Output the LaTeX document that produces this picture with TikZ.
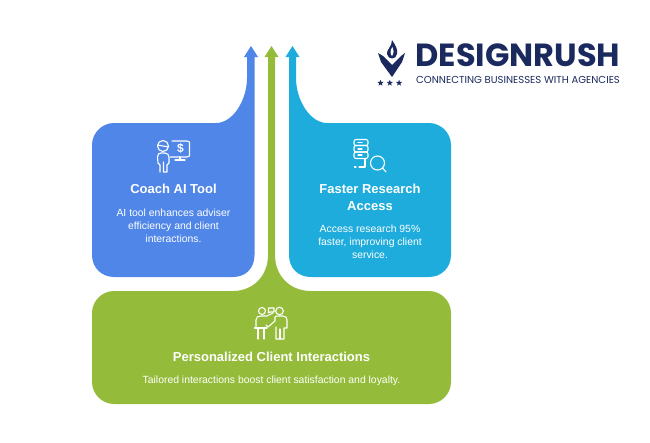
\documentclass[tikz,border=0pt]{standalone}
\usepackage{fontspec}
\setmainfont{Liberation Sans}
\newfontfamily\logofont{Poppins}
\usetikzlibrary{positioning,
        shapes.geometric}
\definecolor{coachblue}{RGB}{79,134,232}
\definecolor{fastcyan}{RGB}{30,172,220}
\definecolor{clientgreen}{RGB}{148,188,58}
\definecolor{rushnavy}{RGB}{27,42,94}
\tikzset{
    titletext/.style={text=white,align=center,font=\fontsize{13}{17}\selectfont\bfseries},
    bodytext/.style={text=white,align=center,font=\fontsize{10.4}{12.8}\selectfont},
    iconline/.style={draw=white,line width=1.1,line cap=round,line join=round},
    navystar/.style={star,star points=5,star point ratio=2.4,fill=rushnavy,inner sep=0,minimum size=6.5}
}

\begin{document}
\begin{tikzpicture}[x=1pt,y=-1pt]
            \useasboundingbox (0,0) rectangle (650,442);
            % panels with their arrows
            \fill [coachblue] (251,46) -- (258,57) -- (254.5,57) -- (254.5,255)
                .. controls (254.5,268) and (246,277) .. (233,277) -- (114,277)
                .. controls (102,277) and (92,268) .. (92,255) -- (92,145)
                .. controls (92,133) and (102,123) .. (114,123) -- (216,123)
                .. controls (233,123) and (247,100) .. (247,78) -- (247,57) -- (244,57) -- cycle;
            \fill [fastcyan] (292.5,46) -- (299.5,57) -- (296,57) -- (296,78)
                .. controls (296,100) and (310,123) .. (327,123) -- (429,123)
                .. controls (441,123) and (451,133) .. (451,145) -- (451,255)
                .. controls (451,268) and (441,277) .. (429,277) -- (311,277)
                .. controls (298,277) and (289,268) .. (289,255) -- (289,57) -- (285.5,57) -- cycle;
            \fill [clientgreen] (271.5,46) -- (278.5,57) -- (275,57) -- (275,255)
                .. controls (275,276) and (290,291) .. (311,291) -- (429,291)
                .. controls (441,291) and (451,301) .. (451,313) -- (451,382)
                .. controls (451,394) and (441,404) .. (429,404) -- (114,404)
                .. controls (102,404) and (92,394) .. (92,382) -- (92,313)
                .. controls (92,301) and (102,291) .. (114,291) -- (233,291)
                .. controls (253,291) and (268,276) .. (268,255) -- (268,57) -- (264.5,57) -- cycle;

            % panel texts
            \node [titletext] (coachtitle) at (173.5,188.5) {Coach AI Tool};
            \node [bodytext] (coachbody) at (173.5,225.5) {AI tool enhances adviser\\efficiency and client\\interactions.};
            \node [titletext] (fastertitle) at (370,197) {Faster Research\\Access};
            \node [bodytext] (fasterbody) at (370,242) {Access research 95\%\\faster, improving client\\service.};
            \node [titletext] (clienttitle) at (271.5,356.5) {Personalized Client Interactions};
            \node [bodytext] (clientbody) at (271.5,380.5) {Tailored interactions boost client satisfaction and loyalty.};

            % coach icon
            \draw [iconline] (163,146) circle (5.5);
            \draw [iconline] (157.5,145) -- (168.5,147);
            \draw [iconline] (160,172) -- (160,165) -- (158,163) -- (157.5,157) .. controls (157.5,154) and (159,153) .. (161,153)
                -- (165,153) .. controls (168,153) and (169,155) .. (169,158) -- (169,163) -- (167,165) -- (167,172) -- (163.5,172) -- (163.5,162);
            \draw [iconline] (172,141) -- (187,141) -- (189.5,142) -- (189.5,156) -- (187,157) -- (170,157);
            \draw [iconline] (180,157) -- (180,160) (175,160) -- (185,160);
            \node [text=white,inner sep=0,font=\fontsize{12}{12}\selectfont\bfseries] (coachdollar) at (180.5,148.5) {\$};

            % research icon
            \draw [iconline,rounded corners=2] (354,139.5) rectangle (368,145.5);
            \draw [iconline,rounded corners=2] (354,145.5) rectangle (368,152);
            \draw [iconline,rounded corners=2] (354,152) rectangle (368,158.5);
            \draw [iconline] (358,142.5) -- (362,142.5) (358,149) -- (362,149) (358,155) -- (362,155);
            \draw [iconline] (365,158.5) -- (365,167) -- (359,167) (356,167) -- (354.5,167);
            \draw [iconline] (377.5,163) circle (7);
            \draw [iconline] (382.5,168) -- (386,172);

            % interaction icon
            \draw [iconline] (262,311) circle (3.5);
            \draw [iconline] (279.5,311) circle (3.8);
            \draw [iconline] (268.5,313) -- (268.5,308) -- (274,308) -- (274,312) -- (270,312) -- cycle;
            \draw [iconline] (256,328) -- (256,320) .. controls (256,317) and (258,316) .. (261,316) -- (267,316) -- (273,313);
            \draw [iconline] (254.5,328) -- (267,328) (258,328) -- (258,339) (264,328) -- (264,339);
            \draw [iconline] (266,325) -- (268,327) -- (275,321) -- (275,317) .. controls (276,316) and (277,316) .. (279,316) -- (283,316)
                .. controls (286,316) and (287,318) .. (287,320) -- (287,328) -- (284,328) -- (284,339) -- (276,339) -- (276,327);
            \draw [iconline] (280,339) -- (280,329);

            % logo
            \fill [rushnavy] (378,53) -- (383,56) -- (392,65) -- (401,56) -- (405,53) -- (402,62) -- (392,77) -- (381,62) -- cycle;
            \fill [rushnavy] (392,40) .. controls (396,46) and (398,50) .. (397,54) .. controls (396,60) and (388,60) .. (387,54)
                .. controls (386,50) and (392,47) .. (392,40) -- cycle;
            \fill [white] (392.5,47) .. controls (394,50) and (394,53) .. (392,56) .. controls (390,54) and (390,50) .. (392.5,47) -- cycle;
            \node [navystar] (starleft) at (380.5,83) {};
            \node [navystar,right=5 of starleft] (starmid) {};
            \node [navystar,right=5 of starmid] (starright) {};
            \node [text=rushnavy,inner sep=0,font=\logofont\bfseries\fontsize{32}{32}\selectfont] (rushname) at (518,55.5) {DESIGNRUSH};
            \node [text=rushnavy,inner sep=0,font=\logofont\fontsize{10.1}{10.1}\selectfont] (rushline) at (518,79.5) {CONNECTING BUSINESSES WITH AGENCIES};
        \end{tikzpicture}
\end{document}
